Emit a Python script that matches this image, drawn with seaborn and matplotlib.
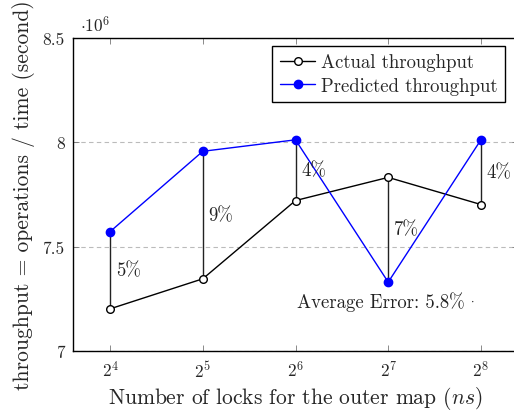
import math
import matplotlib
matplotlib.use("Agg")
import matplotlib.pyplot as plt
import seaborn as sns
import pandas as pd
from matplotlib.ticker import FixedLocator, FuncFormatter, NullLocator

sns.set_style("ticks")
plt.rcParams['font.family'] = 'serif'
plt.rcParams['font.serif'] = ['cmr10']
plt.rcParams['mathtext.fontset'] = 'cm'
plt.rcParams['axes.unicode_minus'] = False
plt.rcParams['axes.formatter.use_mathtext'] = True

locks = [16, 32, 64, 128, 256]
actual = [7.202e6, 7.346e6, 7.721e6, 7.832e6, 7.702e6]
predicted = [7.572e6, 7.957e6, 8.012e6, 7.330e6, 8.012e6]
errors = ["5%", "9%", "4%", "7%", "4%"]
avg_error = "Average Error: 5.8%"
yticks = [7.0e6, 7.5e6, 8.0e6, 8.5e6]

df = pd.DataFrame({"locks": locks, "actual": actual, "predicted": predicted})

fig = plt.figure(figsize=(5.14, 4.14), dpi=100)
ax = fig.add_axes([73/514, 62/414, 445/514, 313/414])
ax.set_xscale('log', base=2)

# vertical error lines
for x, a, p in zip(locks, actual, predicted):
    ax.plot([x, x], [a, p], color='#222222', lw=1.0, zorder=1)

sns.lineplot(data=df, x="locks", y="actual", ax=ax, color='black', lw=1.0,
             marker='o', markersize=5.5, markerfacecolor='white',
             markeredgecolor='black', markeredgewidth=1.0,
             label='Actual throughput', zorder=3)
sns.lineplot(data=df, x="locks", y="predicted", ax=ax, color='blue', lw=1.0,
             marker='o', markersize=6, markerfacecolor='blue',
             markeredgecolor='blue', markeredgewidth=1.0,
             label='Predicted throughput', zorder=3)

for x, a, p, e in zip(locks, actual, predicted, errors):
    ax.annotate(e, xy=(x, (a + p) / 2), xytext=(4, 0), textcoords='offset points',
                ha='left', va='center', fontsize=13.5, color='#222222')

ax.text(2 ** 6.92, 7.24e6, avg_error, ha='center', va='center', fontsize=13.5, color='#222222')
ax.text(2 ** 7.905, 7.245e6, r"$\cdot$", ha='center', va='center', fontsize=9, color='#222222')

ax.set_xlim(2 ** 3.6, 2 ** 8.4)
ax.set_ylim(7.0e6, 8.5e6)
ax.xaxis.set_major_locator(FixedLocator(locks))
ax.xaxis.set_minor_locator(NullLocator())
ax.xaxis.set_major_formatter(FuncFormatter(lambda v, p: r"$2^{%d}$" % round(math.log2(v))))
ax.yaxis.set_major_locator(FixedLocator(yticks))
ax.yaxis.set_major_formatter(FuncFormatter(lambda v, p: ("%g" % (v / 1e6))))
ax.tick_params(direction='in', top=True, right=True, length=4, width=0.6,
               labelsize=12.5, color='#777777', pad=6)
ax.grid(axis='y', linestyle=(0, (4, 3)), color='#bbbbbb', lw=0.8)
for s in ax.spines.values():
    s.set_linewidth(1.0)
    s.set_color('black')

ax.text(0.015, 1.012, r"$\cdot 10^{6}$", transform=ax.transAxes, fontsize=12.5,
        ha='left', va='bottom')

ax.set_xlabel("Number of locks for the outer map ($ns$)", fontsize=15.5, labelpad=3)
ax.set_ylabel("throughput = operations / time (second)", fontsize=15.5, labelpad=5)

leg = ax.legend(loc='upper right', bbox_to_anchor=((505-73)/445, 0.975), fontsize=13.5,
                frameon=True, fancybox=False, framealpha=1, edgecolor='black',
                borderpad=0.4, handlelength=1.9, handletextpad=0.3, labelspacing=0.3,
                borderaxespad=0)
leg.get_frame().set_linewidth(1.0)

fig.savefig("out.png", dpi=100)
